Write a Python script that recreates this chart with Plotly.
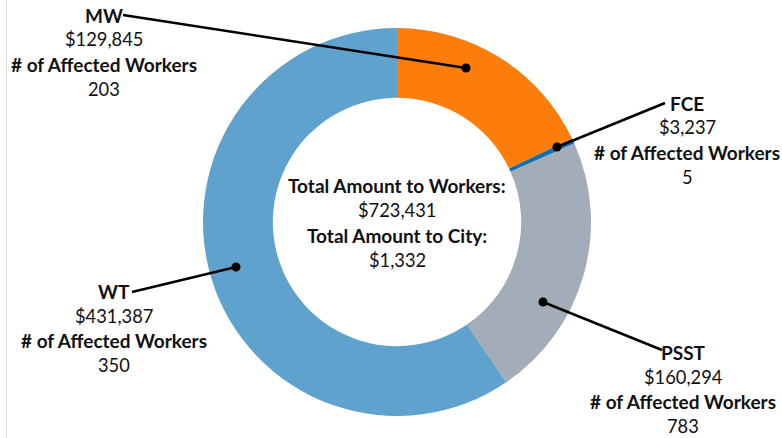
import plotly.graph_objects as go

# slice data, clockwise from 12 o'clock
programs = ["MW", "FCE", "PSST", "WT"]
amounts = [129845, 3237, 160294, 431387]
workers = [203, 5, 783, 350]
colors = ["#FC7D0B", "#1170AA", "#A3ACB9", "#5FA2CE"]

total_workers = "$723,431"
total_city = "$1,332"

W, H = 782, 438
FONT = "Lato"
BOLD = dict(family=FONT, size=19, color="#111111")
REG = dict(family=FONT, size=18.3, color="#111111")


def px(x):
    return x / W


def py(y):
    return 1 - y / H


fig = go.Figure()

fig.add_trace(go.Pie(
    labels=programs,
    values=amounts,
    sort=False,
    direction="clockwise",
    rotation=0,
    hole=0.64,
    marker=dict(colors=colors, line=dict(width=0)),
    textinfo="none",
    hoverinfo="label+value",
    showlegend=False,
    domain=dict(x=[px(203), px(591)], y=[py(416), py(28)]),
))

# label blocks: center x, first line y (pixels)
blocks = {
    "MW": (104, 15),
    "FCE": (687, 103),
    "PSST": (683, 352),
    "WT": (114, 291),
}
# leader lines: label end -> dot on slice
leaders = {
    "MW": ((123, 15), (466, 68)),
    "FCE": ((665, 103), (557, 147)),
    "PSST": ((662, 350), (543, 302)),
    "WT": ((132, 292), (236, 267)),
}

LINE_GAP = 24.5
annotations = []
shapes = []
for name, amt, n in zip(programs, amounts, workers):
    cx, y0 = blocks[name]
    lines = [
        (f"<b>{name}</b>", BOLD),
        (f"${amt:,}", REG),
        ("<b># of Affected Workers</b>", BOLD),
        (f"{n}", REG),
    ]
    for i, (txt, font) in enumerate(lines):
        annotations.append(dict(
            x=px(cx), y=py(y0 + i * LINE_GAP), xref="paper", yref="paper",
            text=txt, showarrow=False, xanchor="center", yanchor="middle",
            font=font,
        ))
    (x0, y0l), (x1, y1l) = leaders[name]
    shapes.append(dict(
        type="line", xref="paper", yref="paper",
        x0=px(x0), y0=py(y0l), x1=px(x1), y1=py(y1l),
        line=dict(color="black", width=2.5),
    ))
    r = 4.5
    shapes.append(dict(
        type="circle", xref="paper", yref="paper",
        x0=px(x1 - r), x1=px(x1 + r), y0=py(y1l + r), y1=py(y1l - r),
        fillcolor="black", line=dict(width=0),
    ))

center_lines = [
    ("<b>Total Amount to Workers:</b>", BOLD),
    (total_workers, REG),
    ("<b>Total Amount to City:</b>", BOLD),
    (total_city, REG),
]
for i, (txt, font) in enumerate(center_lines):
    annotations.append(dict(
        x=px(397), y=py(186 + i * LINE_GAP), xref="paper", yref="paper",
        text=txt, showarrow=False, xanchor="center", yanchor="middle",
        font=font,
    ))

# faint border line at the left edge
shapes.append(dict(
    type="line", xref="paper", yref="paper",
    x0=px(6.5), x1=px(6.5), y0=0, y1=1,
    line=dict(color="#E0E0E0", width=1),
))

fig.update_layout(
    width=W,
    height=H,
    autosize=False,
    margin=dict(l=0, r=0, t=0, b=0),
    paper_bgcolor="white",
    plot_bgcolor="white",
    annotations=annotations,
    shapes=shapes,
)

# drop the default body margin so the figure fills the window
fig.write_html(
    "out.html",
    config={"displayModeBar": False},
    post_script="document.body.style.margin = '0';",
)
